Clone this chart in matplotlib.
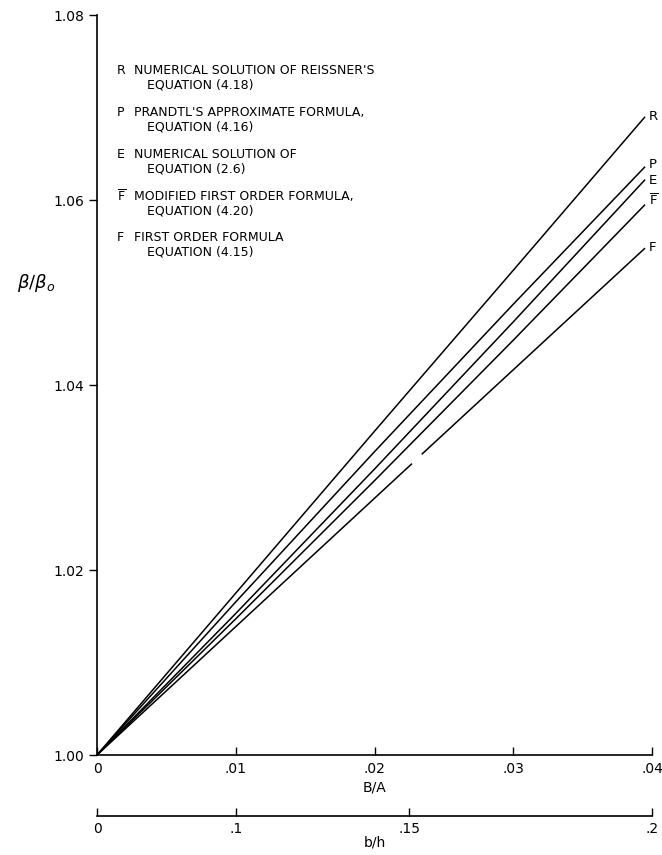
import numpy as np
import matplotlib
matplotlib.use('AGG')
import matplotlib.pyplot as plt

# B/A values where the curves were read, and beta/beta_o at those points
ba = [0.0, 0.01, 0.02, 0.03, 0.0395]
R_vals = [1.0, 1.0175, 1.0350, 1.0524, 1.0690]
P_vals = [1.0, 1.01655, 1.03279, 1.04873, 1.0636]
E_vals = [1.0, 1.01530, 1.03091, 1.04682, 1.0622]
Fbar_vals = [1.0, 1.01472, 1.02966, 1.04484, 1.0595]
# first order formula is drawn in two pieces with a small break
F_lo_x = [0.0, 0.0227]
F_lo_y = [1.0, 1.0315]
F_hi_x = [0.0234, 0.0395]
F_hi_y = [1.0325, 1.0548]

legend_keys = ['R', 'P', 'E', r'$\overline{\mathrm{F}}$', 'F']
legend_text = [
    ("NUMERICAL SOLUTION OF REISSNER'S", "EQUATION (4.18)"),
    ("PRANDTL'S APPROXIMATE FORMULA,", "EQUATION (4.16)"),
    ("NUMERICAL SOLUTION OF", "EQUATION (2.6)"),
    ("MODIFIED FIRST ORDER FORMULA,", "EQUATION (4.20)"),
    ("FIRST ORDER FORMULA", "EQUATION (4.15)"),
]

ba_ticks = [0, 0.01, 0.02, 0.03, 0.04]
ba_ticklabels = ['0', '.01', '.02', '.03', '.04']
bh_ticks = [0, 0.1, 0.15, 0.2]
bh_ticklabels = ['0', '.1', '.15', '.2']
y_ticks = [1.00, 1.02, 1.04, 1.06, 1.08]
y_ticklabels = ['1.00', '1.02', '1.04', '1.06', '1.08']

plt.rcParams['font.family'] = ['DejaVu Sans']
plt.rcParams['mathtext.fontset'] = 'dejavusans'

W, H = 662, 855
fig = plt.figure(figsize=(W / 100, H / 100), dpi=100)
ax = fig.add_axes([97 / W, 100 / H, 555 / W, 740 / H])

lw = 1.1
for vals in [R_vals, P_vals, E_vals, Fbar_vals]:
    ax.plot(ba, vals, color='black', lw=lw, solid_capstyle='butt')
ax.plot(F_lo_x, F_lo_y, color='black', lw=lw, solid_capstyle='butt')
ax.plot(F_hi_x, F_hi_y, color='black', lw=lw, solid_capstyle='butt')

# curve labels at the right-hand ends
ends = [R_vals[-1], P_vals[-1], E_vals[-1], Fbar_vals[-1], F_hi_y[-1]]
offs = [0.0, 0.0002, -0.0001, 0.0004, 0.0001]
for key, yv, o in zip(legend_keys, ends, offs):
    ax.text(0.0398, yv + o, key, fontsize=9.5, ha='left', va='center', clip_on=False)

ax.set_xlim(0, 0.04)
ax.set_ylim(1.0, 1.08)
ax.spines['top'].set_visible(False)
ax.spines['right'].set_visible(False)
for s in ['left', 'bottom']:
    ax.spines[s].set_linewidth(1.2)

ax.set_xticks(ba_ticks)
ax.set_xticklabels(ba_ticklabels)
ax.set_yticks(y_ticks)
ax.set_yticklabels(y_ticklabels)
ax.tick_params(axis='x', direction='in', length=6, width=1, pad=5, labelsize=10)
ax.tick_params(axis='y', direction='out', length=6, width=1, pad=3, labelsize=10)
ax.set_xlabel('B/A', fontsize=10, labelpad=3)

# second scale: b/h, with B/A = (b/h)^2
sec = ax.secondary_xaxis(-(816 - 755) / 740,
                         functions=(lambda v: np.sqrt(np.clip(v, 0, None)), np.square))
sec.set_xticks(bh_ticks)
sec.set_xticklabels(bh_ticklabels)
sec.tick_params(axis='x', direction='in', length=6, width=1, pad=4, labelsize=10)
sec.spines['bottom'].set_linewidth(1.2)
sec.set_xlabel('b/h', fontsize=10, labelpad=0)

fig.text(36 / W, 1 - 283 / H, r'$\beta/\beta_o$', fontsize=13, ha='center', va='center')

# key in the upper left
y0 = 71
for i, (key, (l1, l2)) in enumerate(zip(legend_keys, legend_text)):
    yy = y0 + i * 41.7
    fig.text(117 / W, 1 - yy / H, key, fontsize=9, ha='left', va='center')
    fig.text(134 / W, 1 - yy / H, l1, fontsize=9, ha='left', va='center')
    fig.text(147 / W, 1 - (yy + 14.5) / H, l2, fontsize=9, ha='left', va='center')

fig.savefig('out.png', dpi=100)
